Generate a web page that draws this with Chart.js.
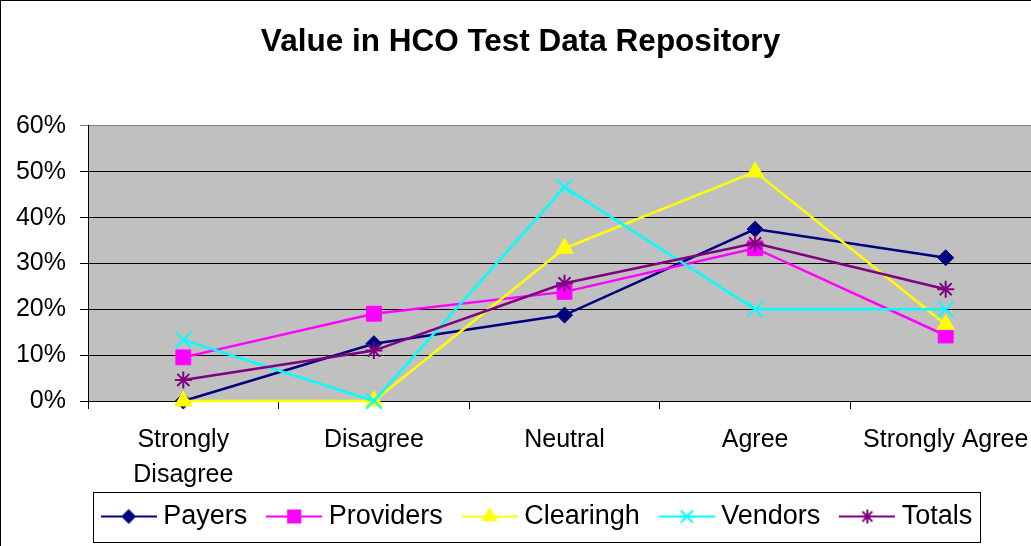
<!DOCTYPE html>
<html>
<head>
<meta charset="utf-8">
<title>Value in HCO Test Data Repository</title>
<script src="https://cdn.jsdelivr.net/npm/chart.js@4/dist/chart.umd.min.js"></script>
<style>
  html, body { margin: 0; padding: 0; overflow: hidden; background: #fff; }
  canvas { display: block; }
</style>
</head>
<body>
<canvas id="grafica" width="1046" height="600"></canvas>
<script>
// datos (porcentajes)
const categorias = [["Strongly", "Disagree"], "Disagree", "Neutral", "Agree", "Strongly Agree"];
const payers = [0, 12.5, 18.75, 37.5, 31.25];
const providers = [9.52, 19.05, 23.81, 33.33, 14.29];
const clearingh = [0, 0, 33.33, 50, 16.67];
const vendors = [13.33, 0, 46.67, 20, 20];
const totals = [4.6, 11.0, 25.7, 34.4, 24.4];
const yMax = 60;
const yStep = 10;

const fuente = '"Liberation Sans", Arial, sans-serif';

// estilo de cada serie
const series = [
  { label: "Payers", data: payers, color: "#000080", style: "rectRot", r: 8, lr: 6 },
  { label: "Providers", data: providers, color: "#FF00FF", style: "rect", r: 10.5, lr: 8.5 },
  { label: "Clearingh", data: clearingh, color: "#FFFF00", style: "triangle", r: 10, lr: 7.5 },
  { label: "Vendors", data: vendors, color: "#00FFFF", style: "crossRot", r: 11, lr: 8.5 },
  { label: "Totals", data: totals, color: "#800080", style: "star", r: 8.5, lr: 7 },
];

// marcador de leyenda: linea + simbolo
const marcadorLeyenda = (s) => {
  const c = document.createElement("canvas");
  c.width = 56;
  c.height = 22;
  const ctx = c.getContext("2d");
  ctx.strokeStyle = s.color;
  ctx.fillStyle = s.color;
  ctx.lineWidth = 2;
  ctx.beginPath();
  ctx.moveTo(0, 11);
  ctx.lineTo(56, 11);
  ctx.stroke();
  Chart.helpers.drawPoint(ctx, { pointStyle: s.style, radius: s.lr, rotation: 0, borderWidth: 2 }, 28, 11);
  return c;
};
const marcadores = series.map(marcadorLeyenda);

const marcoPlugin = {
  id: "marco",
  afterLayout(chart) {
    // la leyenda va algo a la derecha y pegada a las etiquetas
    const lg = chart.legend;
    lg.left += 19.5;
    lg.right += 19.5;
    lg.top -= 14;
    lg.bottom -= 14;
  },
  beforeDraw(chart) {
    const { ctx, chartArea } = chart;
    ctx.save();
    ctx.fillStyle = "#fff";
    ctx.fillRect(0, 0, chart.width, chart.height);
    ctx.fillStyle = "#C0C0C0";
    ctx.fillRect(chartArea.left, chartArea.top, chartArea.right - chartArea.left, chartArea.bottom - chartArea.top);
    ctx.restore();
  },
  afterDraw(chart) {
    const { ctx } = chart;
    ctx.save();
    ctx.strokeStyle = "#000";
    ctx.lineWidth = 1;
    ctx.strokeRect(0.5, 0.5, chart.width - 1, chart.height - 1);
    const hb = chart.legend.legendHitBoxes;
    const first = hb[0];
    const last = hb[hb.length - 1];
    const cy = first.top + first.height / 2;
    const x0 = Math.round(first.left - 15) + 0.5;
    const x1 = Math.round(last.left + last.width + 8) + 0.5;
    const y0 = Math.round(cy - 25) + 0.5;
    ctx.strokeRect(x0, y0, x1 - x0, 50);
    ctx.restore();
  },
};

new Chart(document.getElementById("grafica"), {
  type: "line",
  data: {
    labels: categorias,
    datasets: series.map((s, i) => ({
      label: s.label,
      data: s.data,
      borderColor: s.color,
      backgroundColor: s.color,
      borderWidth: 2.5,
      tension: 0,
      fill: false,
      clip: false,
      pointStyle: s.style,
      pointRadius: s.r,
      pointHoverRadius: s.r,
      pointBorderWidth: s.style === "crossRot" || s.style === "star" ? 2 : 1,
      order: series.length - i,
    })),
  },
  options: {
    responsive: false,
    devicePixelRatio: 1,
    animation: false,
    events: [],
    layout: { autoPadding: false, padding: { left: 0, right: 5, top: 0, bottom: 46 } },
    scales: {
      x: {
        offset: true,
        grid: { offset: true, drawOnChartArea: false, drawTicks: true, tickLength: 8, color: "#000" },
        border: { color: "#000", width: 1 },
        ticks: {
          color: "#000",
          font: { family: fuente, size: 25, lineHeight: 1.4 },
          padding: 14,
          maxRotation: 0,
          autoSkip: false,
        },
        afterFit: (scale) => {
          scale.height = 90;
          scale.paddingLeft = 0;
          scale.paddingRight = 0;
        },
      },
      y: {
        min: 0,
        max: yMax,
        grid: {
          color: (c) => (c.tick && c.tick.value === yMax ? "#808080" : "#000"),
          tickLength: 8,
        },
        border: { color: "#000", width: 1 },
        ticks: {
          stepSize: yStep,
          color: "#000",
          font: { family: fuente, size: 25 },
          padding: 14,
          callback: (v) => v + "%",
        },
        afterFit: (scale) => { scale.width = 88; },
      },
    },
    plugins: {
      title: {
        display: true,
        text: "Value in HCO Test Data Repository",
        color: "#000",
        font: { family: fuente, size: 31.5, weight: "bold" },
        padding: { top: 23.1, bottom: 65.1 },
      },
      legend: {
        position: "bottom",
        labels: {
          color: "#000",
          font: { family: fuente, size: 27 },
          usePointStyle: true,
          pointStyleWidth: 42,
          padding: 26,
          sort: (a, b) => a.datasetIndex - b.datasetIndex,
          generateLabels: (chart) => {
            const items = Chart.defaults.plugins.legend.labels.generateLabels(chart);
            items.forEach((it) => { it.pointStyle = marcadores[it.datasetIndex]; });
            return items;
          },
        },
      },
      tooltip: { enabled: false },
    },
  },
  plugins: [marcoPlugin],
});
</script>
</body>
</html>
